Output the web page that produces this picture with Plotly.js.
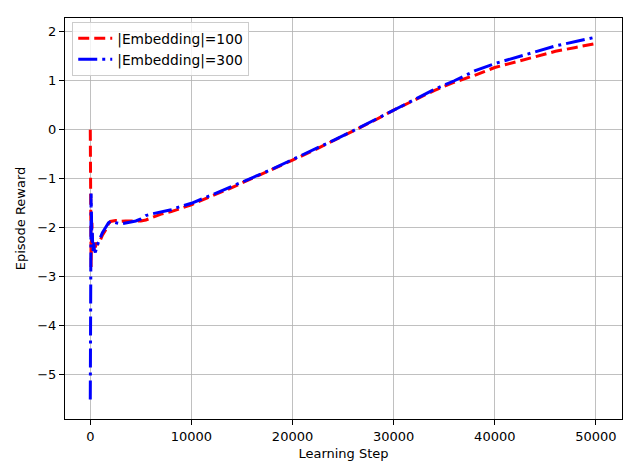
<!DOCTYPE html>
<html>
<head>
<meta charset="utf-8">
<script src="https://cdn.plot.ly/plotly-3.0.1.min.js"></script>
<style>html,body{margin:0;padding:0;background:#fff;}#chart{width:640px;height:476px;}</style>
</head>
<body>
<div id="chart"></div>
<script>
// Learning steps and episode rewards
var stepsEmb100 = [0,10,20,30,40,50,60,70,80,100,130,160,200,250,300,350,400,500,600,700,800,1000,1200,1500,1800,2000,2500,3000,3500,4000,4500,5000,5500,6000,7000,8000,9000,10000,12000,14000,16000,18000,20000,22000,24000,26000,28000,30000,32000,34000,36000,38000,40000,42000,44000,46000,48000,50000];
var rewardEmb100 = [0.0,-0.4,-0.9,-1.3,-1.7,-2.1,-2.4,-2.7,-2.8,-2.5,-2.0,-1.9,-2.2,-2.4,-2.3,-2.45,-2.35,-2.4,-2.3,-2.35,-2.3,-2.25,-2.15,-2.05,-1.92,-1.87,-1.85,-1.87,-1.86,-1.86,-1.86,-1.86,-1.84,-1.8,-1.72,-1.67,-1.6,-1.53,-1.35,-1.18,-0.99,-0.81,-0.62,-0.43,-0.23,-0.03,0.18,0.4,0.6,0.8,0.97,1.11,1.27,1.38,1.5,1.6,1.68,1.76];

var stepsEmb300 = [0,10,20,30,40,50,60,70,80,100,130,160,200,250,300,350,400,500,600,700,800,1000,1200,1500,1800,2000,2500,3000,3500,4000,4500,5000,5500,6000,7000,8000,9000,10000,12000,14000,16000,18000,20000,22000,24000,26000,28000,30000,32000,34000,36000,38000,40000,42000,44000,46000,48000,50000];
var rewardEmb300 = [-5.5,-5.0,-4.3,-3.6,-3.1,-2.6,-2.1,-1.6,-1.3,-1.5,-1.9,-2.3,-2.1,-2.4,-2.5,-2.3,-2.45,-2.5,-2.4,-2.35,-2.3,-2.2,-2.1,-2.0,-1.9,-1.87,-1.9,-1.92,-1.9,-1.88,-1.86,-1.82,-1.75,-1.72,-1.68,-1.63,-1.56,-1.5,-1.33,-1.16,-0.98,-0.8,-0.61,-0.42,-0.22,-0.02,0.19,0.41,0.61,0.82,1.0,1.2,1.35,1.47,1.6,1.71,1.8,1.89];

var seriesNames = ['|Embedding|=100', '|Embedding|=300'];
var xTickVals = [0,10000,20000,30000,40000,50000];
var yTickVals = [-5,-4,-3,-2,-1,0,1,2];

var font = {family: 'DejaVu Sans, sans-serif', size: 13, color: '#000'};

var traces = [
  {x: stepsEmb100, y: rewardEmb100, name: seriesNames[0], type: 'scatter', mode: 'lines',
   line: {color: '#ff0000', width: 3, dash: '11px,5px'}},
  {x: stepsEmb300, y: rewardEmb300, name: seriesNames[1], type: 'scatter', mode: 'lines',
   line: {color: '#0000ff', width: 3, dash: '19px,5px,3px,5px'}}
];

var axisCommon = {
  showline: true, mirror: true, linecolor: '#000', linewidth: 1,
  ticks: 'outside', ticklen: 5, tickwidth: 1, tickcolor: '#000',
  showgrid: true, gridcolor: '#b0b0b0', gridwidth: 0.8, zeroline: false,
  tickfont: font
};

var layout = {
  width: 640, height: 476,
  margin: {l: 65, r: 18, t: 18, b: 57},
  paper_bgcolor: '#fff', plot_bgcolor: '#fff',
  font: font,
  showlegend: true,
  legend: {x: 0.013, y: 0.9905, xanchor: 'left', yanchor: 'top', itemwidth: 34,
           bgcolor: 'rgba(255,255,255,0.8)', bordercolor: '#cccccc', borderwidth: 1,
           font: {family: 'DejaVu Sans, sans-serif', size: 13.8, color: '#000'}},
  xaxis: Object.assign({}, axisCommon, {
    range: [-2500, 52580], tickvals: xTickVals, tickformat: 'd',
    title: {text: 'Learning Step', font: font, standoff: 6}
  }),
  yaxis: Object.assign({}, axisCommon, {
    range: [-5.90, 2.28], tickvals: yTickVals,
    title: {text: 'Episode Reward', font: font, standoff: 8}
  })
};

Plotly.newPlot('chart', traces, layout, {displayModeBar: false, staticPlot: true});
</script>
</body>
</html>
